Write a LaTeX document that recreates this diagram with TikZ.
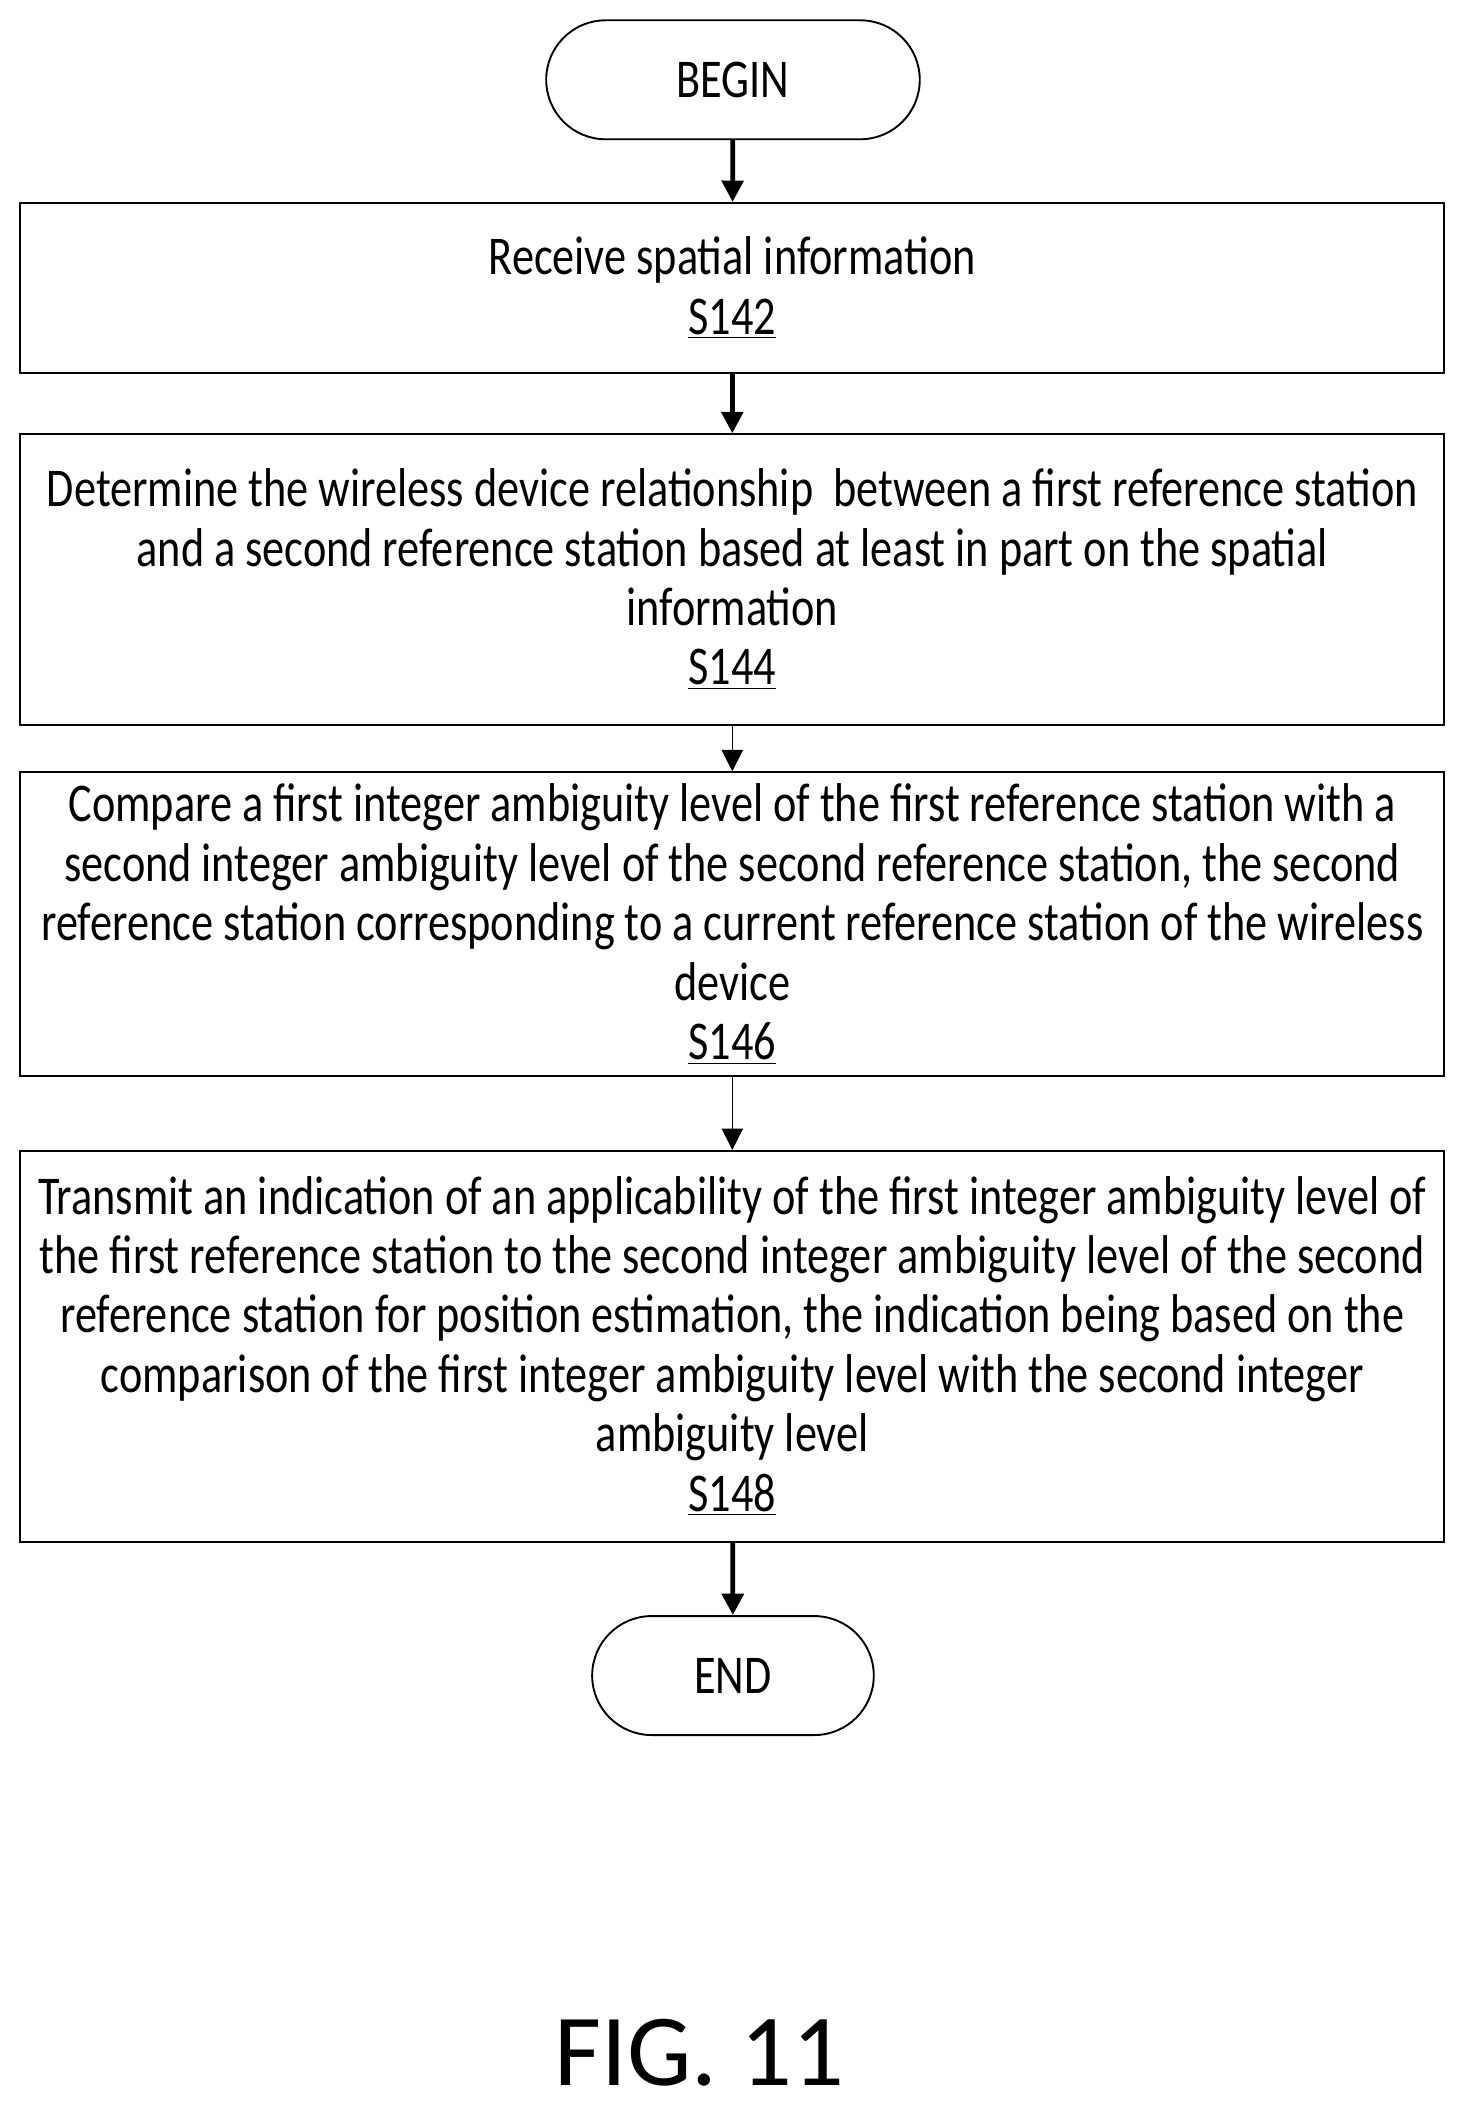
\documentclass[tikz,border=0pt]{standalone}
\usepackage{fontspec}
\setmainfont{Carlito}[FakeStretch=0.81]
\newfontfamily\figfont{Carlito}
\usetikzlibrary{positioning,shapes.misc,arrows.meta}
\tikzstyle{stepbox}=[draw,thick,rectangle,minimum width=21.06cm,align=center,inner sep=0pt]
\tikzstyle{term}=[draw,thick,rounded rectangle,minimum height=1.76cm]
\newcommand{\stepnum}[1]{\underline{#1}}
\begin{document}
\begin{tikzpicture}[x=0.02cm,y=-0.02cm,
    font=\fontsize{23}{25}\selectfont,
    >={Triangle[length=9pt,width=9pt]}
    ]
    \useasboundingbox (0,0) rectangle (1080,1561);
    \node[term,minimum width=5.76cm] (begin) at (542,59) {BEGIN};
    \node[stepbox,minimum height=2.52cm] (s142) at (541.5,213)
        {Receive spatial information\\\stepnum{S142}};
    \node[stepbox,minimum height=4.3cm] (s144) at (541.5,428.5)
        {Determine the wireless device relationship\ \ between a first reference station\\
         and a second reference station based at least in part on the spatial\\
         information\\\stepnum{S144}};
    \node[stepbox,minimum height=4.5cm] (s146) at (541.5,683.5)
        {Compare a first integer ambiguity level of the first reference station with a\\
         second integer ambiguity level of the second reference station, the second\\
         reference station corresponding to a current reference station of the wireless\\
         device\\\stepnum{S146}};
    \node[stepbox,minimum height=5.78cm] (s148) at (541.5,995.5)
        {Transmit an indication of an applicability of the first integer ambiguity level of\\
         the first reference station to the second integer ambiguity level of the second\\
         reference station for position estimation, the indication being based on the\\
         comparison of the first integer ambiguity level with the second integer\\
         ambiguity level\\\stepnum{S148}};
    \node[term,minimum width=4.4cm] (end) at (542,1239) {END};
    \node[font=\figfont\fontsize{43}{50}\selectfont] (fig) at (517,1518) {FIG. 11};
    \draw[->,line width=2pt] (begin) -- (s142);
    \draw[->,line width=2pt] (s142) -- (s144);
    \draw[->,thin] (s144) -- (s146);
    \draw[->,thin] (s146) -- (s148);
    \draw[->,line width=2pt] (s148) -- (end);
\end{tikzpicture}
\end{document}
